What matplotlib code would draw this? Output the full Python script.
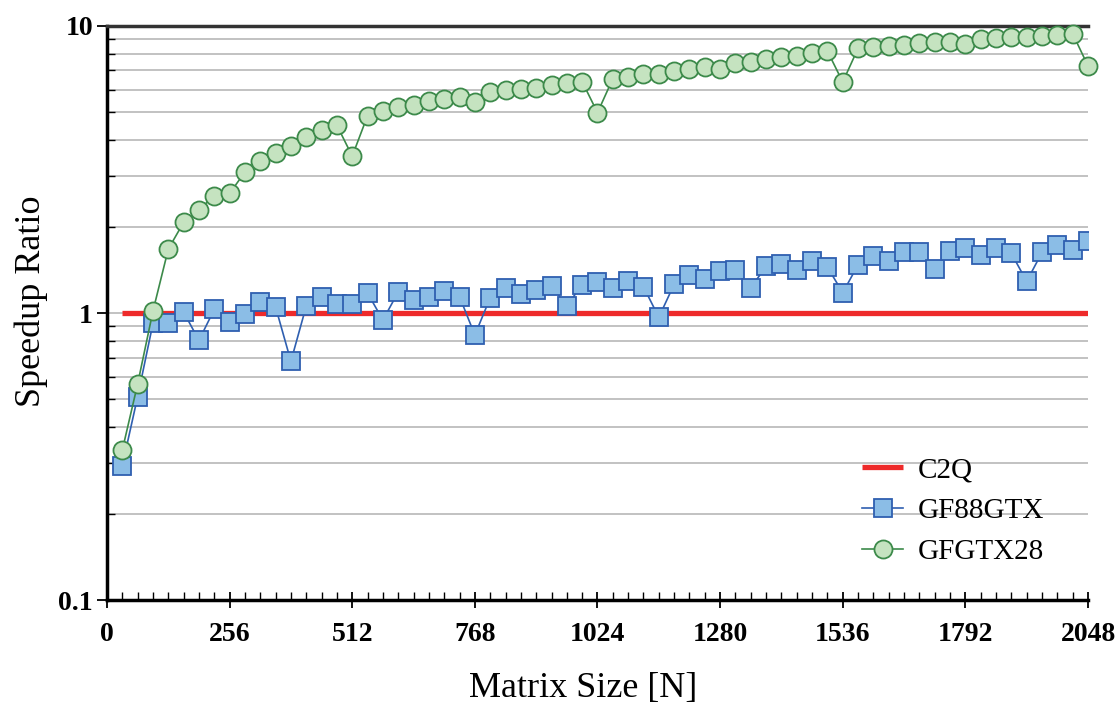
import matplotlib
matplotlib.use('Agg')
import matplotlib.pyplot as plt
from matplotlib.ticker import LogLocator, MultipleLocator, NullFormatter

plt.rcParams['font.family'] = ['Liberation Serif', 'DejaVu Serif']

# matrix sizes, every 32 up to 2048
sizes = list(range(32, 2049, 32))

c2q = [1.0] * len(sizes)

gf88gtx = [0.294, 0.511, 0.921, 0.921, 1.008, 0.803, 1.03, 0.930, 0.992, 1.09, 1.049, 0.679, 1.058, 1.134, 1.077, 1.075,
           1.174, 0.945, 1.184, 1.110, 1.134, 1.196, 1.14, 0.838, 1.13, 1.219, 1.162, 1.203, 1.242, 1.06, 1.255, 1.279,
           1.225, 1.293, 1.235, 0.966, 1.259, 1.353, 1.314, 1.40, 1.412, 1.225, 1.454, 1.481, 1.415, 1.517, 1.446, 1.177,
           1.473, 1.583, 1.52, 1.635, 1.627, 1.427, 1.648, 1.689, 1.596, 1.689, 1.614, 1.289, 1.627, 1.729, 1.662, 1.777]

gfgtx28 = [0.333, 0.566, 1.016, 1.67, 2.07, 2.29, 2.56, 2.61, 3.10, 3.38, 3.62, 3.83, 4.09, 4.34, 4.51, 3.52,
           4.87, 5.06, 5.22, 5.31, 5.48, 5.58, 5.67, 5.43, 5.87, 5.98, 6.03, 6.10, 6.21, 6.31, 6.40, 4.99,
           6.55, 6.62, 6.79, 6.80, 6.97, 7.07, 7.17, 7.07, 7.41, 7.47, 7.67, 7.78, 7.86, 8.07, 8.18, 6.38,
           8.36, 8.43, 8.54, 8.59, 8.75, 8.82, 8.82, 8.66, 9.01, 9.08, 9.16, 9.16, 9.25, 9.33, 9.40, 7.26]

x_ticks = [0, 256, 512, 768, 1024, 1280, 1536, 1792, 2048]
y_ticks = [0.1, 1, 10]
y_labels = ['0.1', '1', '10']

fig = plt.figure(figsize=(11.19, 7.06), dpi=100)
ax = fig.add_axes([0.0956, 0.150, 0.8767, 0.8132])

ax.plot(sizes, c2q, color='#ee2a2a', lw=3.8, label='C2Q', zorder=3, solid_capstyle='butt')
ax.plot(sizes, gf88gtx, color='#2f5fb0', lw=1.2, marker='s', markersize=13.5,
        markerfacecolor='#8bbde6', markeredgecolor='#2f5fb0', markeredgewidth=1.3,
        label='GF88GTX', zorder=4)
ax.plot(sizes, gfgtx28, color='#3c8a4a', lw=1.2, marker='o', markersize=13,
        markerfacecolor='#c5e3c0', markeredgecolor='#3c8a4a', markeredgewidth=1.3,
        label='GFGTX28', zorder=5, clip_on=False)

ax.set_yscale('log')
ax.set_ylim(0.1, 10)
ax.set_xlim(0, 2048)
ax.set_xticks(x_ticks, [str(v) for v in x_ticks], fontsize=20, fontweight='bold')
ax.xaxis.set_minor_locator(MultipleLocator(32))
ax.set_yticks(y_ticks, y_labels, fontsize=20, fontweight='bold')
ax.yaxis.set_minor_locator(LogLocator(base=10, subs=range(2, 10)))
ax.yaxis.set_minor_formatter(NullFormatter())

ax.grid(True, which='both', axis='y', color='#bdbdbd', lw=1.3, zorder=0)
ax.set_axisbelow(True)

ax.tick_params(axis='x', which='major', direction='inout', length=12, width=1.3, pad=10)
ax.tick_params(axis='x', which='minor', direction='in', length=6, width=1)
ax.tick_params(axis='y', which='major', direction='out', length=7, width=1.3, pad=3)
ax.tick_params(axis='y', which='minor', direction='in', length=6, width=1)

ax.spines['right'].set_visible(False)
ax.spines['left'].set_linewidth(2.5)
ax.spines['bottom'].set_linewidth(2.5)
ax.spines['top'].set_linewidth(2.5)
ax.spines['top'].set_color('#333333')

ax.set_xlabel('Matrix Size [N]', fontsize=26)
ax.set_ylabel('Speedup Ratio', fontsize=26)
ax.xaxis.set_label_coords(0.485, -0.125)
ax.yaxis.set_label_coords(-0.06, 0.52)

ax.legend(loc='lower right', bbox_to_anchor=(0.982, 0.015), frameon=False, fontsize=21,
          handlelength=1.4, labelspacing=0.5, handletextpad=0.5)

plt.savefig('out.png', dpi=100)
